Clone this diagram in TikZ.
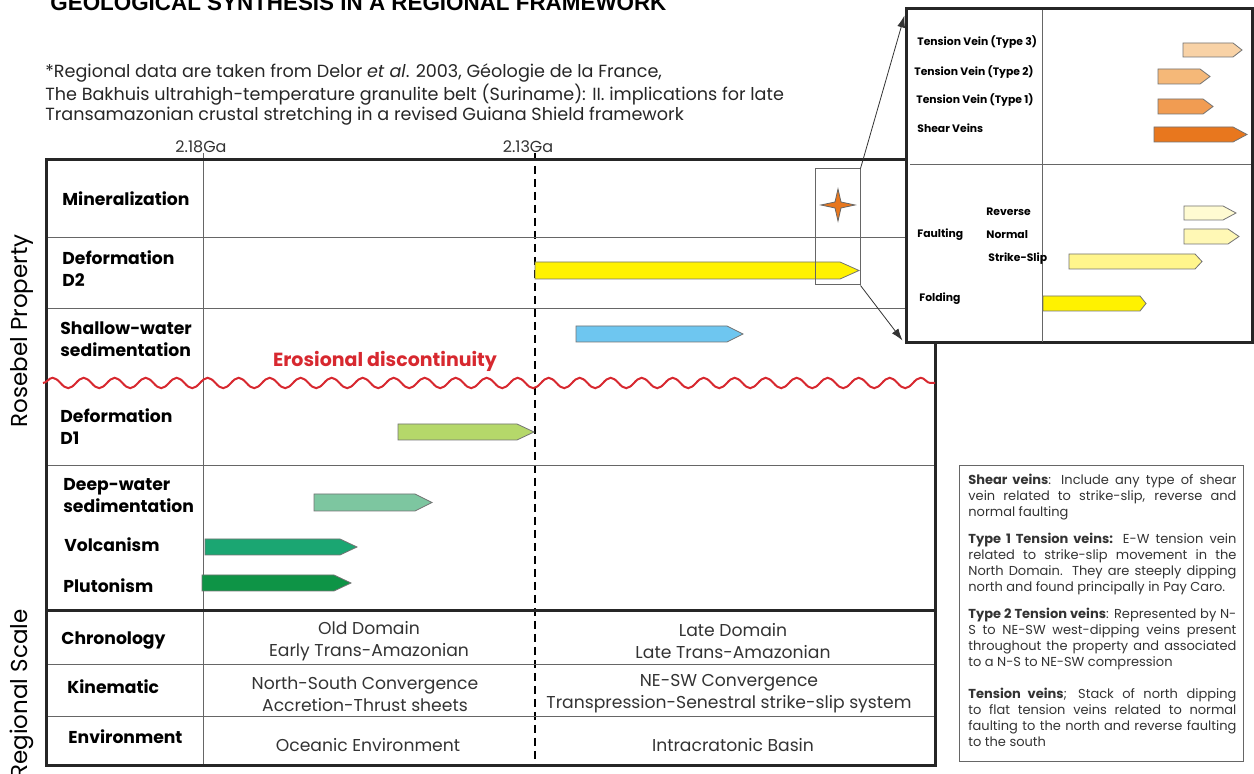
\documentclass[tikz,border=0pt]{standalone}
\usepackage{fontspec}
\setmainfont{Poppins}
\newfontfamily\titlefont{Liberation Sans}
\usetikzlibrary{arrows.meta,decorations.pathmorphing}
\definecolor{wavered}{HTML}{D7282F}
\definecolor{barDb}{HTML}{FFF200}
\definecolor{barSW}{HTML}{6EC6F0}
\definecolor{barDa}{HTML}{B5D86A}
\definecolor{barDW}{HTML}{7DC6A0}
\definecolor{barVo}{HTML}{1BA672}
\definecolor{barPl}{HTML}{0E9446}
\definecolor{veinC}{HTML}{F8D2A6}
\definecolor{veinB}{HTML}{F5B878}
\definecolor{veinA}{HTML}{F19C52}
\definecolor{veinS}{HTML}{E8771E}
\definecolor{fltR}{HTML}{FFFBD2}
\definecolor{fltN}{HTML}{FFF8B5}
\definecolor{fltS}{HTML}{FFF58C}
\definecolor{fold}{HTML}{FFF200}
\begin{document}
\begin{tikzpicture}[x=0.5pt, y=-0.5pt,
    rowlab/.style={anchor=west, inner sep=0pt, align=left,
                   font=\fontsize{8.6}{11}\selectfont\bfseries},
    cell/.style={inner sep=0pt, align=center, text=black!80,
                 font=\fontsize{8.6}{11}\selectfont},
    vein/.style={anchor=west, inner sep=0pt, font=\fontsize{5.4}{6}\selectfont\bfseries},
    bar/.style={draw=black!55, line width=0.4pt},
    fine/.style={draw=black!60, line width=0.5pt},
    heavy/.style={draw=black!85, line width=1.5pt}]
\useasboundingbox (0,0) rectangle (1254,774);
\clip (0,0) rectangle (1254,774);

% title and reference
\node[anchor=base west, inner sep=0pt, font=\titlefont\bfseries\fontsize{11.2}{13}\selectfont]
  (title) at (50,11) {GEOLOGICAL SYNTHESIS IN A REGIONAL FRAMEWORK};
\node[anchor=north west, inner sep=0pt, align=left, text=black!85,
      font=\fontsize{8.8}{10}\selectfont] (note) at (45,63)
  {*Regional data are taken from Delor \textit{et al}. 2003, G\'eologie de la France,\\
   The Bakhuis ultrahigh-temperature granulite belt (Suriname): II. implications for late\\
   Transamazonian crustal stretching in a revised Guiana Shield framework};

% time marks
\node[cell, font=\fontsize{8}{9}\selectfont] (t218) at (201,147) {2.18Ga};
\node[cell, font=\fontsize{8}{9}\selectfont] (t213) at (528,147) {2.13Ga};
\draw[fine] (203,153) -- (203,766);
\draw[black, line width=0.7pt, dash pattern=on 4pt off 2.5pt] (535,153) -- (535,766);

% table
\foreach \y in {238,309,466,665,717}
  \draw[fine] (46,\y) -- (935,\y);
\draw[heavy] (46,611) -- (935,611);
\draw[heavy] (46,160) rectangle (935,766);
\draw[wavered, line width=1pt, decorate,
      decoration={snake, segment length=15.5pt, amplitude=2.6pt}] (43,383) -- (935,383);
\node[text=wavered, inner sep=0pt, font=\fontsize{9.5}{11}\selectfont\bfseries]
  (erosion) at (385,361) {Erosional discontinuity};

% side titles
\node[rotate=90, inner sep=0pt, font=\fontsize{11.5}{13}\selectfont] (rosebel) at (22,331) {Rosebel Property};
\node[rotate=90, inner sep=0pt, font=\fontsize{11.5}{13}\selectfont] (regional) at (22,694) {Regional Scale};

% row labels
\node[rowlab] (mine) at (62,199) {Mineralization};
\node[rowlab] (defb) at (62,269) {Deformation\\D2};
\node[rowlab] (shallow) at (60,339) {Shallow-water\\sedimentation};
\node[rowlab] (defa) at (60,427) {Deformation\\D1};
\node[rowlab] (deep) at (63,496) {Deep-water\\sedimentation};
\node[rowlab] (volc) at (64,545) {Volcanism};
\node[rowlab] (pluto) at (63,586) {Plutonism};
\node[rowlab] (chrono) at (61,641) {Chronology};
\node[rowlab] (kine) at (67,687) {Kinematic};
\node[rowlab] (envir) at (68,737) {Environment};

% regional cells
\node[cell] (olddom) at (369,641) {Old Domain\\Early Trans-Amazonian};
\node[cell] (latedom) at (733,641) {Late Domain\\Late Trans-Amazonian};
\node[cell] (nsconv) at (365,694) {North-South Convergence\\Accretion-Thrust sheets};
\node[cell] (neconv) at (729,694) {NE-SW Convergence\\Transpression-Senestral strike-slip system};
\node[cell] (ocean) at (368,745) {Oceanic Environment};
\node[cell] (basin) at (733,745) {Intracratonic Basin};

% time bars
\foreach \xa/\xt/\xb/\ya/\yb/\c in {535/840/859/262/279/barDb, 576/727/743/326/342/barSW,
    398/517/534/424/440/barDa, 314/415/432/494/511/barDW,
    205/340/357/539/555/barVo, 202/334/351/575/591/barPl}
  \draw[bar, fill=\c] (\xa,\ya) -- (\xt,\ya) -- (\xb,{(\ya+\yb)/2}) -- (\xt,\yb) -- (\xa,\yb) -- cycle;

% mineralization star
\draw[fill=veinS, draw=black!60, line width=0.4pt] (838,189) -- (841,202) -- (855,205) -- (841,208)
  -- (838,221) -- (835,208) -- (821,205) -- (835,202) -- cycle;
\node[fine, draw, minimum width=22.5pt, minimum height=58pt, inner sep=0pt] (zoombox) at (837.5,227) {};

% inset
\node[heavy, fill=white, minimum width=173pt, minimum height=167pt, inner sep=0pt] (inset) at (1079,176) {};
\draw[fine] (1042,10) -- (1042,342);
\draw[fine] (910,165) -- (1251,165);
\draw[-{Latex[length=6pt,width=4pt]}, black!80, line width=0.4pt] (zoombox.north east) -- ([yshift=-4pt]inset.north west);
\draw[-{Latex[length=6pt,width=4pt]}, black!80, line width=0.4pt] (zoombox.south east) -- ([xshift=-1pt,yshift=2pt]inset.south west);

\node[vein] (tvc) at (917,42) {Tension Vein (Type 3)};
\node[vein] (tvb) at (914,72) {Tension Vein (Type 2)};
\node[vein] (tva) at (916,100) {Tension Vein (Type 1)};
\node[vein] (shv) at (917,128) {Shear Veins};
\node[vein] (rev) at (986,212) {Reverse};
\node[vein] (fault) at (917,235) {Faulting};
\node[vein] (norm) at (986,235) {Normal};
\node[vein] (sslip) at (988,259) {Strike-Slip};
\node[vein] (folding) at (919,299) {Folding};

\foreach \xa/\xt/\xb/\ya/\yb/\c in {1183/1233/1242/43/57/veinC, 1158/1200/1210/69/84/veinB,
    1158/1203/1213/99/114/veinA, 1154/1233/1247/127/142/veinS,
    1184/1223/1236/206/220/fltR, 1184/1228/1239/229/244/fltN,
    1069/1195/1202/254/269/fltS, 1043/1140/1146/296/311/fold}
  \draw[bar, fill=\c] (\xa,\ya) -- (\xt,\ya) -- (\xb,{(\ya+\yb)/2}) -- (\xt,\yb) -- (\xa,\yb) -- cycle;

% legend
\draw[fine] (959,466) rectangle (1243,762);
\node[anchor=north west, inner sep=0pt, text width=134pt, align=justify, text=black!80,
      font=\fontsize{6.5}{8}\selectfont] (legend) at (968,474)
  {\hyphenpenalty=10000
   \textbf{Shear veins}: Include any type of shear vein related to strike-slip, reverse and normal faulting\par\vspace{5.5pt}
   \textbf{Type 1 Tension veins:} E-W tension vein related to strike-slip movement in the North Domain. They are steeply dipping north and found principally in Pay Caro.\par\vspace{5.5pt}
   \textbf{Type 2 Tension veins}: Represented by N-S to NE-SW west-dipping veins present throughout the property and associated to a N-S to NE-SW compression\par\vspace{8pt}
   \textbf{Tension veins}; Stack of north dipping to flat tension veins related to normal faulting to the north and reverse faulting to the south\par};
\end{tikzpicture}
\end{document}
